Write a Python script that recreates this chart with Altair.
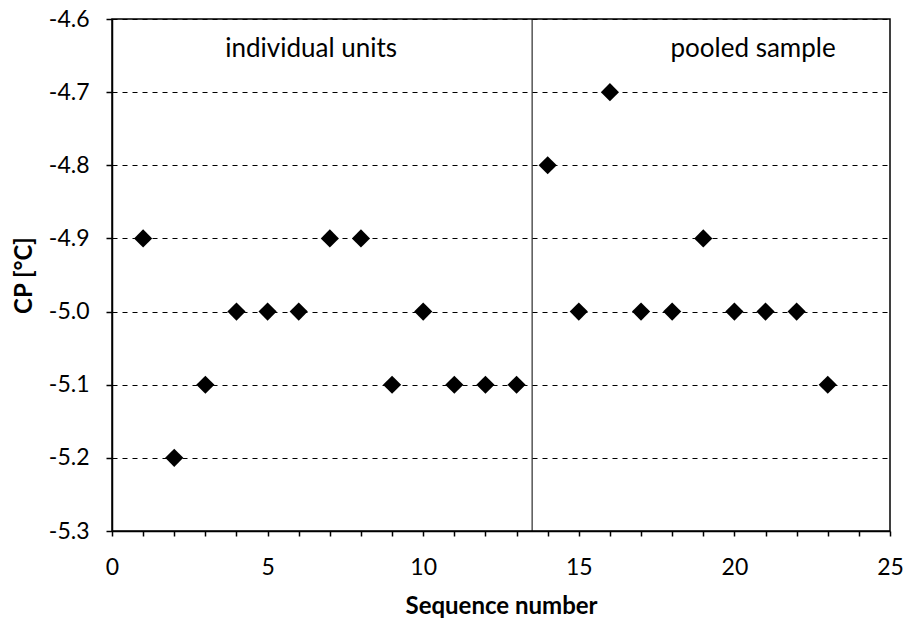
import altair as alt
import pandas as pd

seq = list(range(1, 24))
cp = [-4.9, -5.2, -5.1, -5.0, -5.0, -5.0, -4.9, -4.9, -5.1, -5.0, -5.1, -5.1, -5.1,
      -4.8, -5.0, -4.7, -5.0, -5.0, -4.9, -5.0, -5.0, -5.0, -5.1]
y_ticks = [-5.3, -5.2, -5.1, -5.0, -4.9, -4.8, -4.7, -4.6]
x_ticks = list(range(0, 26))
split_x = [13.5]
ann_x = [6.4, 20.6]
ann_y = [-4.641, -4.641]
ann_text = ["individual units", "pooled sample"]

FONT = "Lato"
df = pd.DataFrame({"seq": seq, "cp": cp})

xs = alt.Scale(domain=[0, 25], nice=False, zero=False)
ys = alt.Scale(domain=[-5.3, -4.6], nice=False, zero=False)

xaxis = alt.Axis(values=x_ticks, labelExpr="datum.value % 5 == 0 ? datum.label : ''",
                 labelOverlap=False, labelFlush=False,
                 title="Sequence number", grid=False, tickSize=5, labelPadding=20,
                 titlePadding=15)
yaxis = alt.Axis(values=y_ticks, labelExpr="replace(format(datum.value, '.1f'), '\u2212', '-')",
                 title="CP [°C]", grid=True, labelOverlap=False,
                 gridDash=[5, 5], gridColor="black", gridOpacity=1, gridWidth=1,
                 tickSize=6, labelPadding=17, titlePadding=12)

pts = alt.Chart(df).mark_point(shape="diamond", filled=True, color="black", size=330, opacity=1).encode(
    x=alt.X("seq:Q", scale=xs, axis=xaxis),
    y=alt.Y("cp:Q", scale=ys, axis=yaxis),
)

vline = alt.Chart(pd.DataFrame({"x": split_x})).mark_rule(color="black", strokeWidth=1).encode(
    x=alt.X("x:Q", scale=xs, axis=xaxis)
)

ann = alt.Chart(pd.DataFrame({"x": ann_x, "y": ann_y, "t": ann_text})).mark_text(
    font=FONT, fontSize=26, color="black", align="center", baseline="middle"
).encode(
    x=alt.X("x:Q", scale=xs, axis=xaxis), y=alt.Y("y:Q", scale=ys, axis=yaxis), text="t:N"
)

chart = alt.layer(pts, vline, ann).properties(
    width=778, height=512,
    padding={"left": 112, "top": 19, "right": 17, "bottom": 91},
    autosize=alt.AutoSizeParams(type="none"),
    background="white",
).configure_view(stroke="black", strokeWidth=1.5).configure_axis(
    labelFont=FONT, titleFont=FONT, labelFontSize=23, titleFontSize=24,
    titleFontWeight="bold", labelColor="black", titleColor="black",
    domainColor="black", tickColor="black", domainWidth=1.5, tickWidth=1.5,
    labelOverlap=False,
)

chart.save("out.html", embed_options={"renderer": "svg", "actions": False})
